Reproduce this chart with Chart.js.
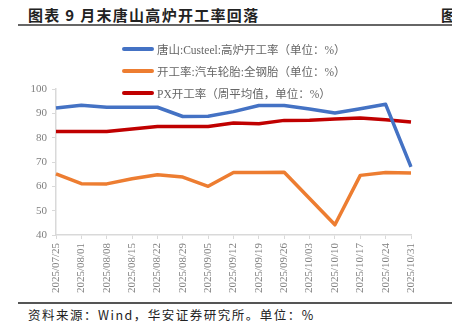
<!DOCTYPE html>
<html lang="zh">
  <head>
    <meta charset="UTF-8" />
    <title>月末唐山高炉开工率回落</title>
    <script src="https://cdn.jsdelivr.net/npm/chart.js"></script>
    <style>
      body { margin: 0; background: #fff; }
      #wrap { position: relative; width: 452px; height: 334px; overflow: hidden; }
      #title { position: absolute; left: 28px; top: 4px; font: bold 15px "Noto Sans CJK SC"; color: #222; letter-spacing: 1.3px; white-space: nowrap; }
      #title2 { position: absolute; left: 441px; top: 4px; font: bold 15px "Noto Sans CJK SC"; color: #222; }
      #rule1 { position: absolute; left: 18px; right: 0; top: 24px; height: 2px; background: #666; }
      #rule2 { position: absolute; left: 18px; right: 0; top: 302px; height: 2px; background: #555; }
      #foot { position: absolute; left: 28px; top: 305px; font: 12.5px "Noto Sans CJK SC"; color: #222; letter-spacing: 1.5px; white-space: nowrap; }
      canvas { position: absolute; left: 0; top: 0; }
      .leg { position: absolute; left: 122px; height: 16px; font: 11.5px "Liberation Serif", "Noto Sans CJK SC"; color: #666; white-space: nowrap; display: flex; align-items: center; }
      .leg i { display: inline-block; width: 32px; height: 4px; border-radius: 2px; margin-right: 3px; }
    </style>
  </head>
  <body>
    <div id="wrap">
      <div id="title">图表 9 月末唐山高炉开工率回落</div>
      <div id="title2">图</div>
      <div id="rule1"></div>
      <canvas id="chart" width="452" height="300"></canvas>
      <div class="leg" style="top: 41px"><i style="background: #4472c4"></i>唐山:Custeel:高炉开工率（单位：%）</div>
      <div class="leg" style="top: 63px"><i style="background: #ed7d31"></i>开工率:汽车轮胎:全钢胎（单位：%）</div>
      <div class="leg" style="top: 85px"><i style="background: #c00000"></i>PX开工率（周平均值，单位：%）</div>
      <div id="rule2"></div>
      <div id="foot">资料来源：Wind，华安证券研究所。单位：%</div>
    </div>
    <script>
      const dates = [
        "2025/07/25", "2025/08/01", "2025/08/08", "2025/08/15", "2025/08/22",
        "2025/08/29", "2025/09/05", "2025/09/12", "2025/09/19", "2025/09/26",
        "2025/10/03", "2025/10/10", "2025/10/17", "2025/10/24", "2025/10/31",
      ];
      const tangshan = [92.2, 93.3, 92.5, 92.5, 92.5, 88.7, 88.8, 90.7, 93.2, 93.2, 91.8, 90.1, 91.9, 93.7, 68.0];
      const tyre = [65.1, 61.1, 61.0, 63.1, 64.8, 63.8, 60.0, 65.7, 65.7, 65.8, 55.0, 44.2, 64.5, 65.7, 65.5];
      const px = [82.5, 82.5, 82.5, 83.6, 84.6, 84.6, 84.6, 86.0, 85.7, 87.1, 87.2, 87.7, 88.1, 87.4, 86.4];
      const yTicks = [40, 50, 60, 70, 80, 90, 100];

      const tickFont = { family: "Liberation Serif", size: 11 };
      const axisColor = "#d9d9d9";

      function line(label, data, color) {
        return {
          label: label,
          data: data,
          borderColor: color,
          backgroundColor: color,
          borderWidth: 3.5,
          pointRadius: 0,
          tension: 0,
          borderJoinStyle: "round",
        };
      }

      new Chart(document.getElementById("chart"), {
        type: "line",
        data: {
          labels: dates,
          datasets: [
            line("唐山:Custeel:高炉开工率（单位：%）", tangshan, "#4472c4"),
            line("开工率:汽车轮胎:全钢胎（单位：%）", tyre, "#ed7d31"),
            line("PX开工率（周平均值，单位：%）", px, "#c00000"),
          ],
        },
        options: {
          responsive: false,
          animation: false,
          layout: { padding: { left: 0, right: 41, top: 89, bottom: 0 } },
          plugins: { legend: { display: false }, tooltip: { enabled: false } },
          scales: {
            x: {
              offset: false,
              afterFit: (s) => { s.height = 65; },
              grid: { drawOnChartArea: false, color: axisColor, tickLength: 4 },
              border: { color: axisColor, width: 1.5 },
              ticks: {
                minRotation: 90,
                maxRotation: 90,
                autoSkip: false,
                padding: 4,
                color: "#7f7f7f",
                font: { family: "Liberation Serif", size: 11 },
              },
            },
            y: {
              min: 40,
              max: 100,
              afterFit: (s) => { s.width = 56; },
              afterBuildTicks: (s) => { s.ticks = yTicks.map((v) => ({ value: v })); },
              grid: { drawOnChartArea: false, color: axisColor, tickLength: 4 },
              border: { color: axisColor, width: 1.5 },
              ticks: { color: "#7f7f7f", font: tickFont, padding: 5 },
            },
          },
        },
      });
    </script>
  </body>
</html>
